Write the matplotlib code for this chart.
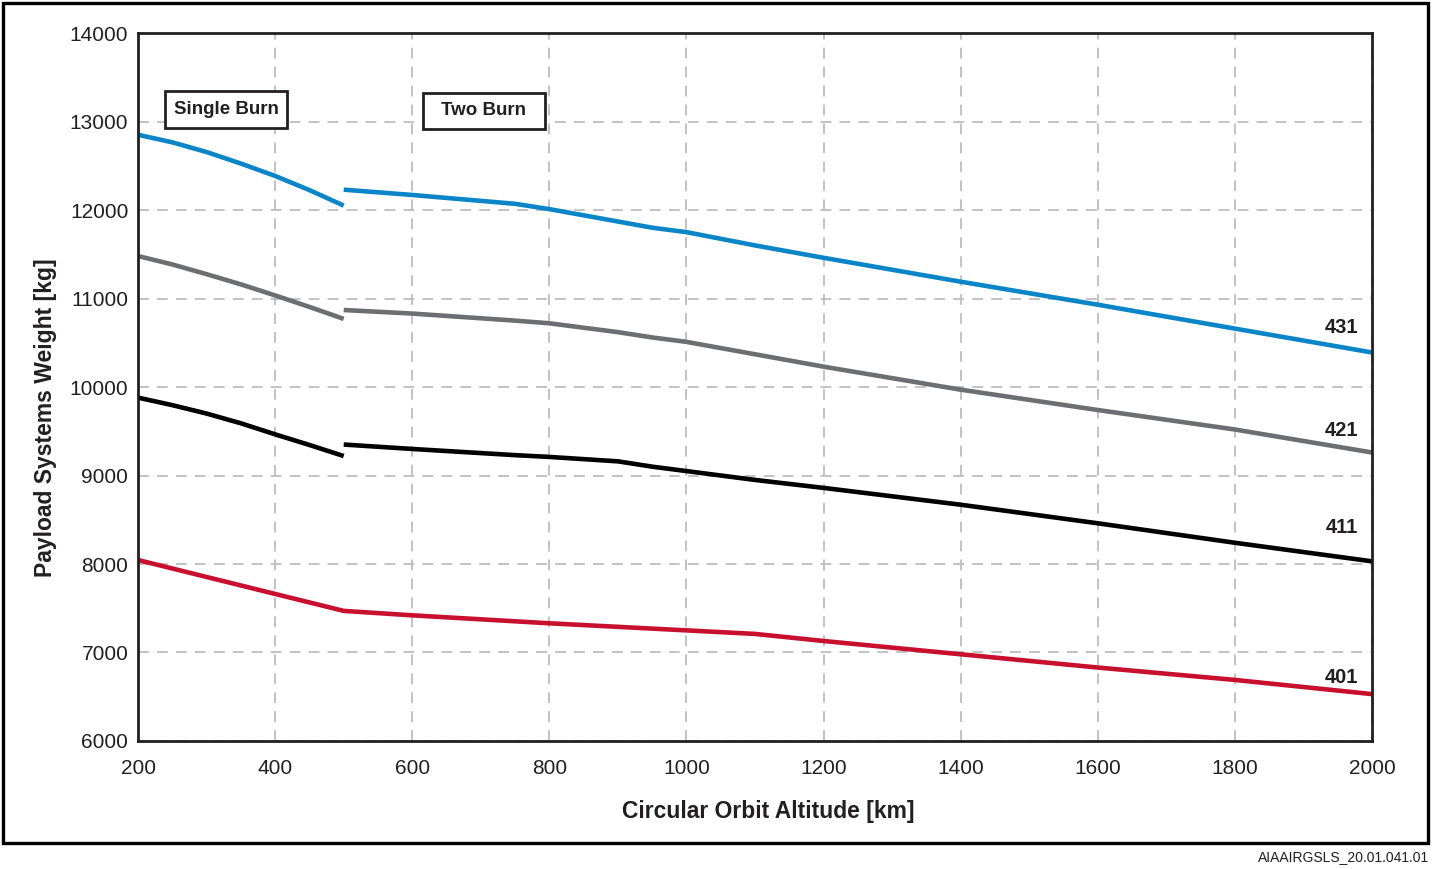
import matplotlib
matplotlib.use("Agg")
from matplotlib import pyplot as plt
from matplotlib.patches import Rectangle

plt.rcParams['font.family'] = ['Liberation Sans', 'DejaVu Sans']

# single burn (200-500 km)
single_x = [200, 250, 300, 350, 400, 450, 500]
single_431 = [12850, 12765, 12655, 12525, 12385, 12225, 12050]
single_421 = [11480, 11385, 11275, 11160, 11035, 10905, 10770]
single_411 = [9880, 9795, 9700, 9590, 9465, 9345, 9220]

# two burn (500-2000 km)
two_x = [500, 600, 750, 800, 900, 950, 1000, 1100, 1200, 1400, 1600, 1800, 2000]
two_431 = [12230, 12170, 12070, 12010, 11870, 11800, 11750, 11600, 11460, 11190, 10930, 10660, 10390]
two_421 = [10870, 10830, 10750, 10720, 10620, 10560, 10510, 10370, 10230, 9970, 9740, 9520, 9260]
two_411 = [9350, 9300, 9230, 9210, 9160, 9100, 9050, 8950, 8860, 8670, 8460, 8240, 8030]

# 401 is one continuous curve
x_401 = [200, 500, 600, 800, 1000, 1100, 1200, 1400, 1600, 1800, 2000]
y_401 = [8045, 7470, 7420, 7330, 7250, 7210, 7130, 6980, 6830, 6690, 6530]

blue = "#0a86c8"
gray = "#6d6e71"
red = "#c8102e"
ink = "#231f20"

fig = plt.figure(figsize=(14.32, 8.69), dpi=100)
ax = fig.add_axes([0.0964, 0.1473, 0.8617, 0.8147])

lw = 3.3
ax.plot(single_x, single_431, color=blue, lw=lw, solid_capstyle="butt")
ax.plot(two_x, two_431, color=blue, lw=lw, solid_capstyle="butt")
ax.plot(single_x, single_421, color=gray, lw=lw, solid_capstyle="butt")
ax.plot(two_x, two_421, color=gray, lw=lw, solid_capstyle="butt")
ax.plot(single_x, single_411, color="black", lw=lw, solid_capstyle="butt")
ax.plot(two_x, two_411, color="black", lw=lw, solid_capstyle="butt")
ax.plot(x_401, y_401, color=red, lw=lw, solid_capstyle="butt")

ax.set_xlim(200, 2000)
ax.set_ylim(6000, 14000)
ax.set_xticks(range(200, 2001, 200))
ax.set_yticks(range(6000, 14001, 1000))
ax.tick_params(length=0, labelsize=15, colors=ink)
ax.tick_params(axis="x", pad=13)
ax.tick_params(axis="y", pad=7)
ax.grid(True, color="#bdbdbd", linestyle=(0, (6, 4.5)), lw=1.3)
ax.set_axisbelow(True)
for s in ax.spines.values():
    s.set_linewidth(2)
    s.set_color(ink)

ax.set_xlabel("Circular Orbit Altitude [km]", fontsize=16.5, fontweight="bold", color=ink)
ax.set_ylabel("Payload Systems Weight [kg]", fontsize=16.5, fontweight="bold", color=ink)
ax.xaxis.set_label_coords(0.511, -0.084)
ax.yaxis.set_label_coords(-0.066, 0.456)

# series labels
for lab, yv in [("431", 10667), ("421", 9503), ("411", 8418), ("401", 6723)]:
    ax.text(1980, yv, lab, ha="right", va="center", fontsize=14.5, fontweight="bold", color=ink)

# single / two burn boxes
ax.add_patch(Rectangle((239.4, 12927), 177.9, 418, fc="white", ec=ink, lw=2, zorder=3))
ax.text(328.3, 13141, "Single Burn", ha="center", va="center", fontsize=13.5, fontweight="bold",
        color=ink, zorder=4)
ax.add_patch(Rectangle((615.7, 12915), 177.9, 407, fc="white", ec=ink, lw=2, zorder=3))
ax.text(704.6, 13123, "Two Burn", ha="center", va="center", fontsize=13.5, fontweight="bold",
        color=ink, zorder=4)

# outer frame
fig.patches.append(Rectangle((3 / 1432, 1 - 843 / 869), 1425 / 1432, 840 / 869,
                             transform=fig.transFigure, fill=False, ec="black", lw=2.4))
fig.text(1429 / 1432, 1 - 857 / 869, "AIAAIRGSLS_20.01.041.01", ha="right", va="center",
         fontsize=10, color=ink)

fig.savefig("out.png", dpi=100)
